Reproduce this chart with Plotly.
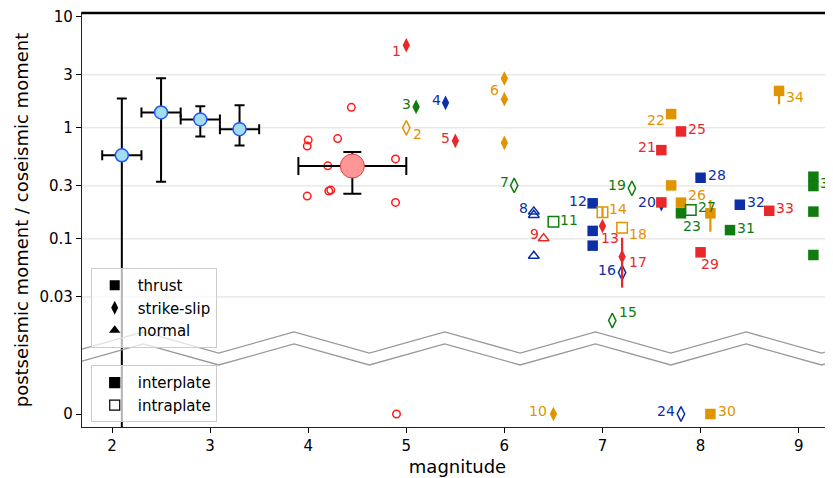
import numpy as np
import plotly.graph_objects as go

# ---------------- data ----------------
# binned averages (blue circles)
bin_mag = [2.1, 2.5, 2.9, 3.3]
bin_ratio = [0.566, 1.375, 1.19, 0.973]
bin_ratio_lo = [0.0, 0.327, 0.837, 0.695]
bin_ratio_hi = [1.84, 2.80, 1.567, 1.60]
bin_mag_err = [0.2, 0.2, 0.2, 0.2]

# small events (red open circles) and their mean
small_mag = [4.44, 4.00, 3.99, 4.30, 4.20, 4.89, 3.99, 4.21, 4.23, 4.89, 4.90]
small_ratio = [1.53, 0.775, 0.685, 0.80, 0.455, 0.525, 0.243, 0.270, 0.275, 0.213, 0.0]
small_mean_mag = [4.45]
small_mean_ratio = [0.453]
small_mean_mag_lo = [3.90]
small_mean_mag_hi = [5.00]
small_mean_ratio_lo = [0.255]
small_mean_ratio_hi = [0.605]

# numbered events: mechanism (T thrust, S strike-slip, N normal), setting
event_ids = list(range(1, 36))
event_mech = ['S', 'S', 'S', 'S', 'S', 'S', 'S', 'N', 'N', 'S',
              'T', 'T', 'S', 'T', 'S', 'S', 'S', 'T', 'S', 'S',
              'T', 'T', 'T', 'S', 'T', 'T', 'T', 'T', 'T', 'T',
              'T', 'T', 'T', 'T', 'T']
event_plate = ['inter', 'intra', 'inter', 'inter', 'inter', 'inter', 'intra', 'intra', 'intra', 'inter',
               'intra', 'inter', 'inter', 'intra', 'intra', 'intra', 'inter', 'intra', 'intra', 'inter',
               'inter', 'inter', 'inter', 'intra', 'inter', 'inter', 'intra', 'inter', 'inter', 'inter',
               'inter', 'inter', 'inter', 'inter', 'inter']

pt_event = [1, 2, 3, 4, 5, 6, 6, 6, 7, 8, 8, 8, 9, 10, 11, 12, 12, 12, 13, 14, 15, 16, 17, 18, 19,
            20, 21, 21, 22, 22, 23, 24, 25, 26, 27, 28, 29, 30, 30, 31, 32, 33, 34, 35, 35, 35, 35]
pt_mag = [5.0, 5.0, 5.1, 5.4, 5.5, 6.0, 6.0, 6.0, 6.1, 6.3, 6.3, 6.3, 6.4, 6.5, 6.5, 6.9, 6.9, 6.9,
          7.0, 7.0, 7.1, 7.2, 7.2, 7.2, 7.3, 7.6, 7.6, 7.6, 7.7, 7.7, 7.8, 7.8, 7.8, 7.8, 7.9, 8.0,
          8.0, 8.1, 8.1, 8.3, 8.4, 8.7, 8.8, 9.15, 9.15, 9.15, 9.15]
pt_ratio = [5.54, 1.0, 1.545, 1.68, 0.764, 2.78, 1.81, 0.733, 0.303, 0.176, 0.164, 0.0702, 0.101,
            0.0, 0.143, 0.209, 0.118, 0.0869, 0.1306, 0.1734, 0.01838, 0.0497, 0.0692, 0.126, 0.285,
            0.205, 0.63, 0.213, 1.33, 0.303, 0.17, 0.0, 0.928, 0.212, 0.182, 0.355, 0.0757, 0.0,
            0.17, 0.12, 0.203, 0.179, 2.15, 0.363, 0.299, 0.176, 0.0716]

# error ranges on some events
err_event = [14, 17, 30, 34]
err_lo = [0.156, 0.0364, 0.116, 1.63]
err_hi = [0.192, 0.1025, 0.224, 2.25]

y_ticks = [0, 0.03, 0.1, 0.3, 1, 3, 10]
y_tick_labels = ['0', '0.03', '0.1', '0.3', '1', '3', '10']
x_ticks = [2, 3, 4, 5, 6, 7, 8, 9]
grid_vals = [0.03, 0.1, 0.3, 1, 3]

# ---------------- style ----------------
PALETTE = ['#e8282b', '#df9400', '#107c10', '#0c2ea6']
ZERO_LOG = -2.577          # where "0" sits on the broken log axis
Y_RANGE = [-2.694, 1.034]
X_RANGE = [1.694, 9.35]
FONT = 'DejaVu Sans'
SYMBOL = {'T': 'square', 'S': 'diamond-tall', 'N': 'triangle-up'}
SIZE = {'T': 10.5, 'S': 10.5, 'N': 9.5}

# label placement: side, dx, dy (px, screen down positive), point index within event
LABELS = {
    1: ('right', -4, 6, 0), 2: ('left', 6, 6, 0), 3: ('right', -4, -3, 0), 4: ('right', -4, -3, 0),
    5: ('right', -4, -3, 0), 6: ('right', -4, -9, 1), 7: ('right', -4, -3, 0), 8: ('right', -5, -4, 0),
    9: ('right', -4, -4, 0), 10: ('right', -5, -3, 0), 11: ('left', 6, -2, 0), 12: ('right', -5, -2, 0),
    13: ('left', -2, 12, 0), 14: ('left', 6, -3, 0), 15: ('left', 6, -9, 0), 16: ('right', -5, -3, 0),
    17: ('left', 6, 5, 0), 18: ('left', 6, 6, 0), 19: ('right', -5, -3, 0), 20: ('right', -4, -2, 0),
    21: ('right', -4, -3, 0), 22: ('right', -5, 6, 0), 23: ('left', 1, 13, 0), 24: ('right', -5, -3, 0),
    25: ('left', 6, -2, 0), 26: ('left', 6, -8, 0), 27: ('left', 6, -3, 0), 28: ('left', 6, -3, 0),
    29: ('left', -1, 12, 0), 30: ('left', 7, -3, 0), 31: ('left', 6, -2, 0), 32: ('left', 6, -3, 0),
    33: ('left', 6, -3, 0), 34: ('left', 6, 6, 0), 35: ('left', 6, 6, 0),
}


def disp(v):
    return v if v > 0 else 10 ** ZERO_LOG


fig = go.Figure()

# small events
fig.add_trace(go.Scatter(
    x=small_mag, y=[disp(v) for v in small_ratio], mode='markers',
    marker=dict(symbol='circle-open', size=7.5, color='#ff1a1a', line=dict(width=1.5)),
    showlegend=False, hoverinfo='skip'))

# mean of small events
fig.add_trace(go.Scatter(
    x=small_mean_mag, y=small_mean_ratio, mode='markers',
    marker=dict(symbol='circle', size=24, color='#ff9696', line=dict(width=1, color='#e04040')),
    error_x=dict(type='data', symmetric=False,
                 array=[h - m for h, m in zip(small_mean_mag_hi, small_mean_mag)],
                 arrayminus=[m - l for l, m in zip(small_mean_mag_lo, small_mean_mag)],
                 color='black', thickness=2, width=9),
    error_y=dict(type='data', symmetric=False,
                 array=[h - m for h, m in zip(small_mean_ratio_hi, small_mean_ratio)],
                 arrayminus=[m - l for l, m in zip(small_mean_ratio_lo, small_mean_ratio)],
                 color='black', thickness=2, width=9),
    showlegend=False, hoverinfo='skip'))

# binned averages
fig.add_trace(go.Scatter(
    x=bin_mag, y=bin_ratio, mode='markers',
    marker=dict(symbol='circle', size=13, color='#a3dcee', line=dict(width=1.5, color='#1f55ff')),
    error_x=dict(type='data', array=bin_mag_err, color='black', thickness=2, width=5),
    error_y=dict(type='data', symmetric=False,
                 array=[h - m for h, m in zip(bin_ratio_hi, bin_ratio)],
                 arrayminus=[m - l for l, m in zip(bin_ratio_lo, bin_ratio)],
                 color='black', thickness=2, width=5),
    showlegend=False, hoverinfo='skip'))

# numbered events
annotations = []
for eid in event_ids:
    idx = [i for i, e in enumerate(pt_event) if e == eid]
    col = PALETTE[(eid - 1) % 4]
    mech = event_mech[eid - 1]
    is_open = event_plate[eid - 1] == 'intra'
    sym = SYMBOL[mech] + ('-open' if is_open else '')
    xs = [pt_mag[i] for i in idx]
    ys = [disp(pt_ratio[i]) for i in idx]
    err = None
    if eid in err_event:
        k = err_event.index(eid)
        err = dict(type='data', symmetric=False,
                   array=[err_hi[k] - pt_ratio[i] if pt_ratio[i] > 0 else 0 for i in idx],
                   arrayminus=[pt_ratio[i] - err_lo[k] if pt_ratio[i] > 0 else 0 for i in idx],
                   color=col, thickness=2.2, width=0)
    fig.add_trace(go.Scatter(
        x=xs, y=ys, mode='markers',
        marker=dict(symbol=sym, size=SIZE[mech], color=col,
                    line=dict(width=1.5 if is_open else 0, color=col)),
        error_y=err, showlegend=False, hoverinfo='skip'))
    side, dx, dy, k = LABELS[eid]
    i = idx[k]
    annotations.append(dict(
        x=pt_mag[i], y=np.log10(disp(pt_ratio[i])), xref='x', yref='y',
        text=str(eid), showarrow=False, xanchor=side, yanchor='middle',
        xshift=dx, yshift=-dy, borderpad=0,
        font=dict(family=FONT, size=14, color=col)))

# legend entries
for name, sym in [('thrust', 'square'), ('strike-slip', 'diamond-tall'), ('normal', 'triangle-up')]:
    fig.add_trace(go.Scatter(x=[None], y=[None], mode='markers', name=name, legend='legend',
                             marker=dict(symbol=sym, color='black', size=10,
                                         line=dict(width=0, color='black'))))
for name, sym in [('interplate', 'square'), ('intraplate', 'square-open')]:
    fig.add_trace(go.Scatter(x=[None], y=[None], mode='markers', name=name, legend='legend2',
                             marker=dict(symbol=sym, color='black', size=10,
                                         line=dict(width=1.2, color='black'))))

# shapes: grid, top spine, axis-break zigzag
shapes = []
for g in grid_vals:
    shapes.append(dict(type='line', xref='paper', x0=0, x1=1, yref='y',
                       y0=g, y1=g, layer='below',
                       line=dict(color='#dddddd', width=1)))
shapes.append(dict(type='line', xref='paper', yref='paper', x0=-0.001, x1=1, y0=1, y1=1,
                   line=dict(color='black', width=2.5)))

period = 0.2007
phase = 0.0816
kx = np.arange(-2, 14)
vx = phase + kx * period / 2
for top, bot in [(0.2295, 0.1787), (0.2005, 0.1498)]:
    vy = np.where(kx % 2 == 0, top, bot)
    xs = np.concatenate([[0.0], vx[(vx > 0) & (vx < 1)], [1.0]])
    ys = np.interp(xs, vx, vy)
    path = 'M ' + ' L '.join(f'{a:.4f},{b:.4f}' for a, b in zip(xs, ys))
    shapes.append(dict(type='path', xref='paper', yref='paper', path=path, layer='above',
                       line=dict(color='#999999', width=1.3)))

legend_common = dict(xanchor='left', yanchor='top', bgcolor='rgba(255,255,255,0.7)',
                     bordercolor='#cccccc', borderwidth=1, itemwidth=36,
                     font=dict(family=FONT, size=15, color='black'), tracegroupgap=0)

# page body has an 8px margin; size the figure so the plot lands where it should
fig.update_layout(
    width=825, height=470,
    margin=dict(l=74, r=0, t=5, b=51, autoexpand=False),
    plot_bgcolor='white', paper_bgcolor='white',
    font=dict(family=FONT, size=15, color='black'),
    showlegend=True,
    legend=dict(x=0.0116, y=0.384, **legend_common),
    legend2=dict(x=0.0116, y=0.149, **legend_common),
    shapes=shapes,
    annotations=annotations,
    xaxis=dict(range=X_RANGE, tickvals=x_ticks, ticks='outside', ticklen=5, tickwidth=1.2,
               tickcolor='black', showline=True, linecolor='#222222', linewidth=1.2,
               showgrid=False, zeroline=False, automargin=False,
               title=dict(text='magnitude', font=dict(family=FONT, size=18), standoff=6)),
    yaxis=dict(type='log', range=Y_RANGE,
               tickvals=[disp(v) for v in y_ticks], ticktext=y_tick_labels,
               ticks='outside', ticklen=5, tickwidth=1.2, tickcolor='black',
               showline=True, linecolor='#222222', linewidth=1.2,
               showgrid=False, zeroline=False, automargin=False,
               title=dict(text='postseismic moment / coseismic moment',
                          font=dict(family=FONT, size=18), standoff=6)),
)

fig.write_html('out.html')
